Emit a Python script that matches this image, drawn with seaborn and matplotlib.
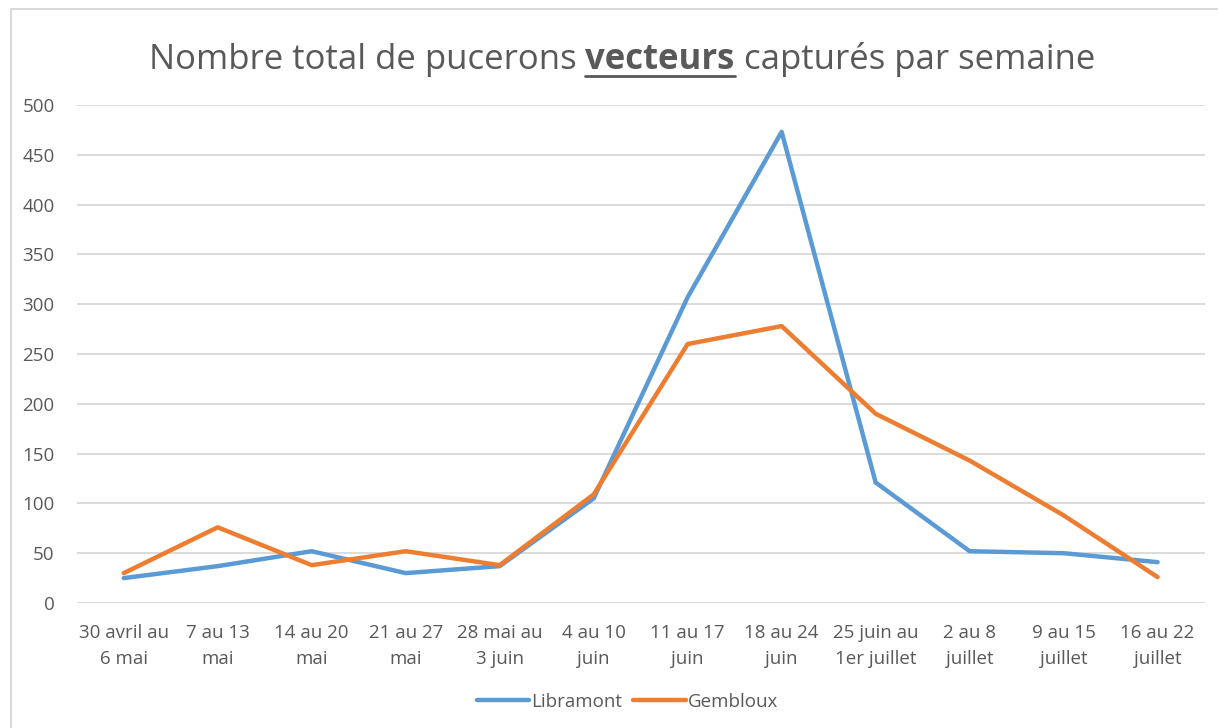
import pandas as pd
import seaborn as sns
import matplotlib.pyplot as plt
from matplotlib.patches import Rectangle

# weekly periods
semaines = ["30 avril au\n6 mai", "7 au 13\nmai", "14 au 20\nmai", "21 au 27\nmai",
            "28 mai au\n3 juin", "4 au 10\njuin", "11 au 17\njuin", "18 au 24\njuin",
            "25 juin au\n1er juillet", "2 au 8\njuillet", "9 au 15\njuillet", "16 au 22\njuillet"]
libramont = [25, 37, 52, 30, 37, 105, 307, 473, 121, 52, 50, 41]
gembloux = [30, 76, 38, 52, 38, 109, 260, 278, 190, 143, 88, 26]

df = pd.DataFrame({
    "semaine": list(range(len(semaines))) * 2,
    "valeur": libramont + gembloux,
    "site": ["Libramont"] * len(semaines) + ["Gembloux"] * len(semaines),
})

sns.set_style("white")
plt.rcParams['font.family'] = ['Open Sans', 'DejaVu Sans']

fig = plt.figure(figsize=(12.18, 7.28), dpi=100)
ax = fig.add_axes([0.063, 0.1717, 0.926, 0.6841])

sns.lineplot(data=df, x="semaine", y="valeur", hue="site",
             palette={"Libramont": "#5B9BD5", "Gembloux": "#ED7D31"},
             linewidth=3.2, ax=ax, legend=False)

ax.set_xlim(-0.5, len(semaines) - 0.5)
ax.set_ylim(0, 500)
ax.set_yticks(range(0, 501, 50))
ax.set_xticks(range(len(semaines)))
ax.set_xticklabels(semaines, fontsize=13.5, color="#595959", linespacing=1.55)
ax.tick_params(axis="y", labelsize=13.5, labelcolor="#595959", length=0, pad=16)
ax.tick_params(axis="x", length=0, pad=15)
ax.set_xlabel("")
ax.set_ylabel("")
ax.grid(axis="y", color="#d9d9d9", linewidth=1.3)
ax.set_axisbelow(True)
for s in ax.spines.values():
    s.set_visible(False)
ax.axhline(0, color="#d9d9d9", linewidth=1.5, zorder=0)

# legend
h1, = ax.plot([], [], color="#5B9BD5", linewidth=3.2, label="Libramont")
h2, = ax.plot([], [], color="#ED7D31", linewidth=3.2, label="Gembloux")
fig.legend(handles=[h1, h2], loc="center", bbox_to_anchor=(0.515, 0.036), ncol=2,
           frameon=False, fontsize=13.5, labelcolor="#595959", handlelength=2.8,
           columnspacing=0.6, handletextpad=0.1)

# title with bold underlined word
tsize = 25
tcol = "#595959"
parts = [("Nombre total de pucerons ", "normal"), ("vecteurs", "bold"), (" capturés par semaine", "normal")]
fig.canvas.draw()
r = fig.canvas.get_renderer()
texts = []
for txt, w in parts:
    t = fig.text(0, 0.905, txt, fontsize=tsize, fontweight=w, color=tcol, va="baseline", ha="left")
    texts.append(t)
widths = [t.get_window_extent(r).width for t in texts]
total = sum(widths)
x0 = 622 - total / 2
for t, wd in zip(texts, widths):
    t.set_x(x0 / 1218)
    if t.get_fontweight() == "bold":
        fig.add_artist(plt.Line2D([x0 / 1218, (x0 + wd) / 1218], [0.895, 0.895],
                                  color=tcol, linewidth=2, transform=fig.transFigure))
    x0 += wd

# outer frame
fig.add_artist(Rectangle((0.009, -0.01), 1.2, 0.998, transform=fig.transFigure,
                         fill=False, edgecolor="#d9d9d9", linewidth=1.5))

fig.savefig("out.png", dpi=100)
